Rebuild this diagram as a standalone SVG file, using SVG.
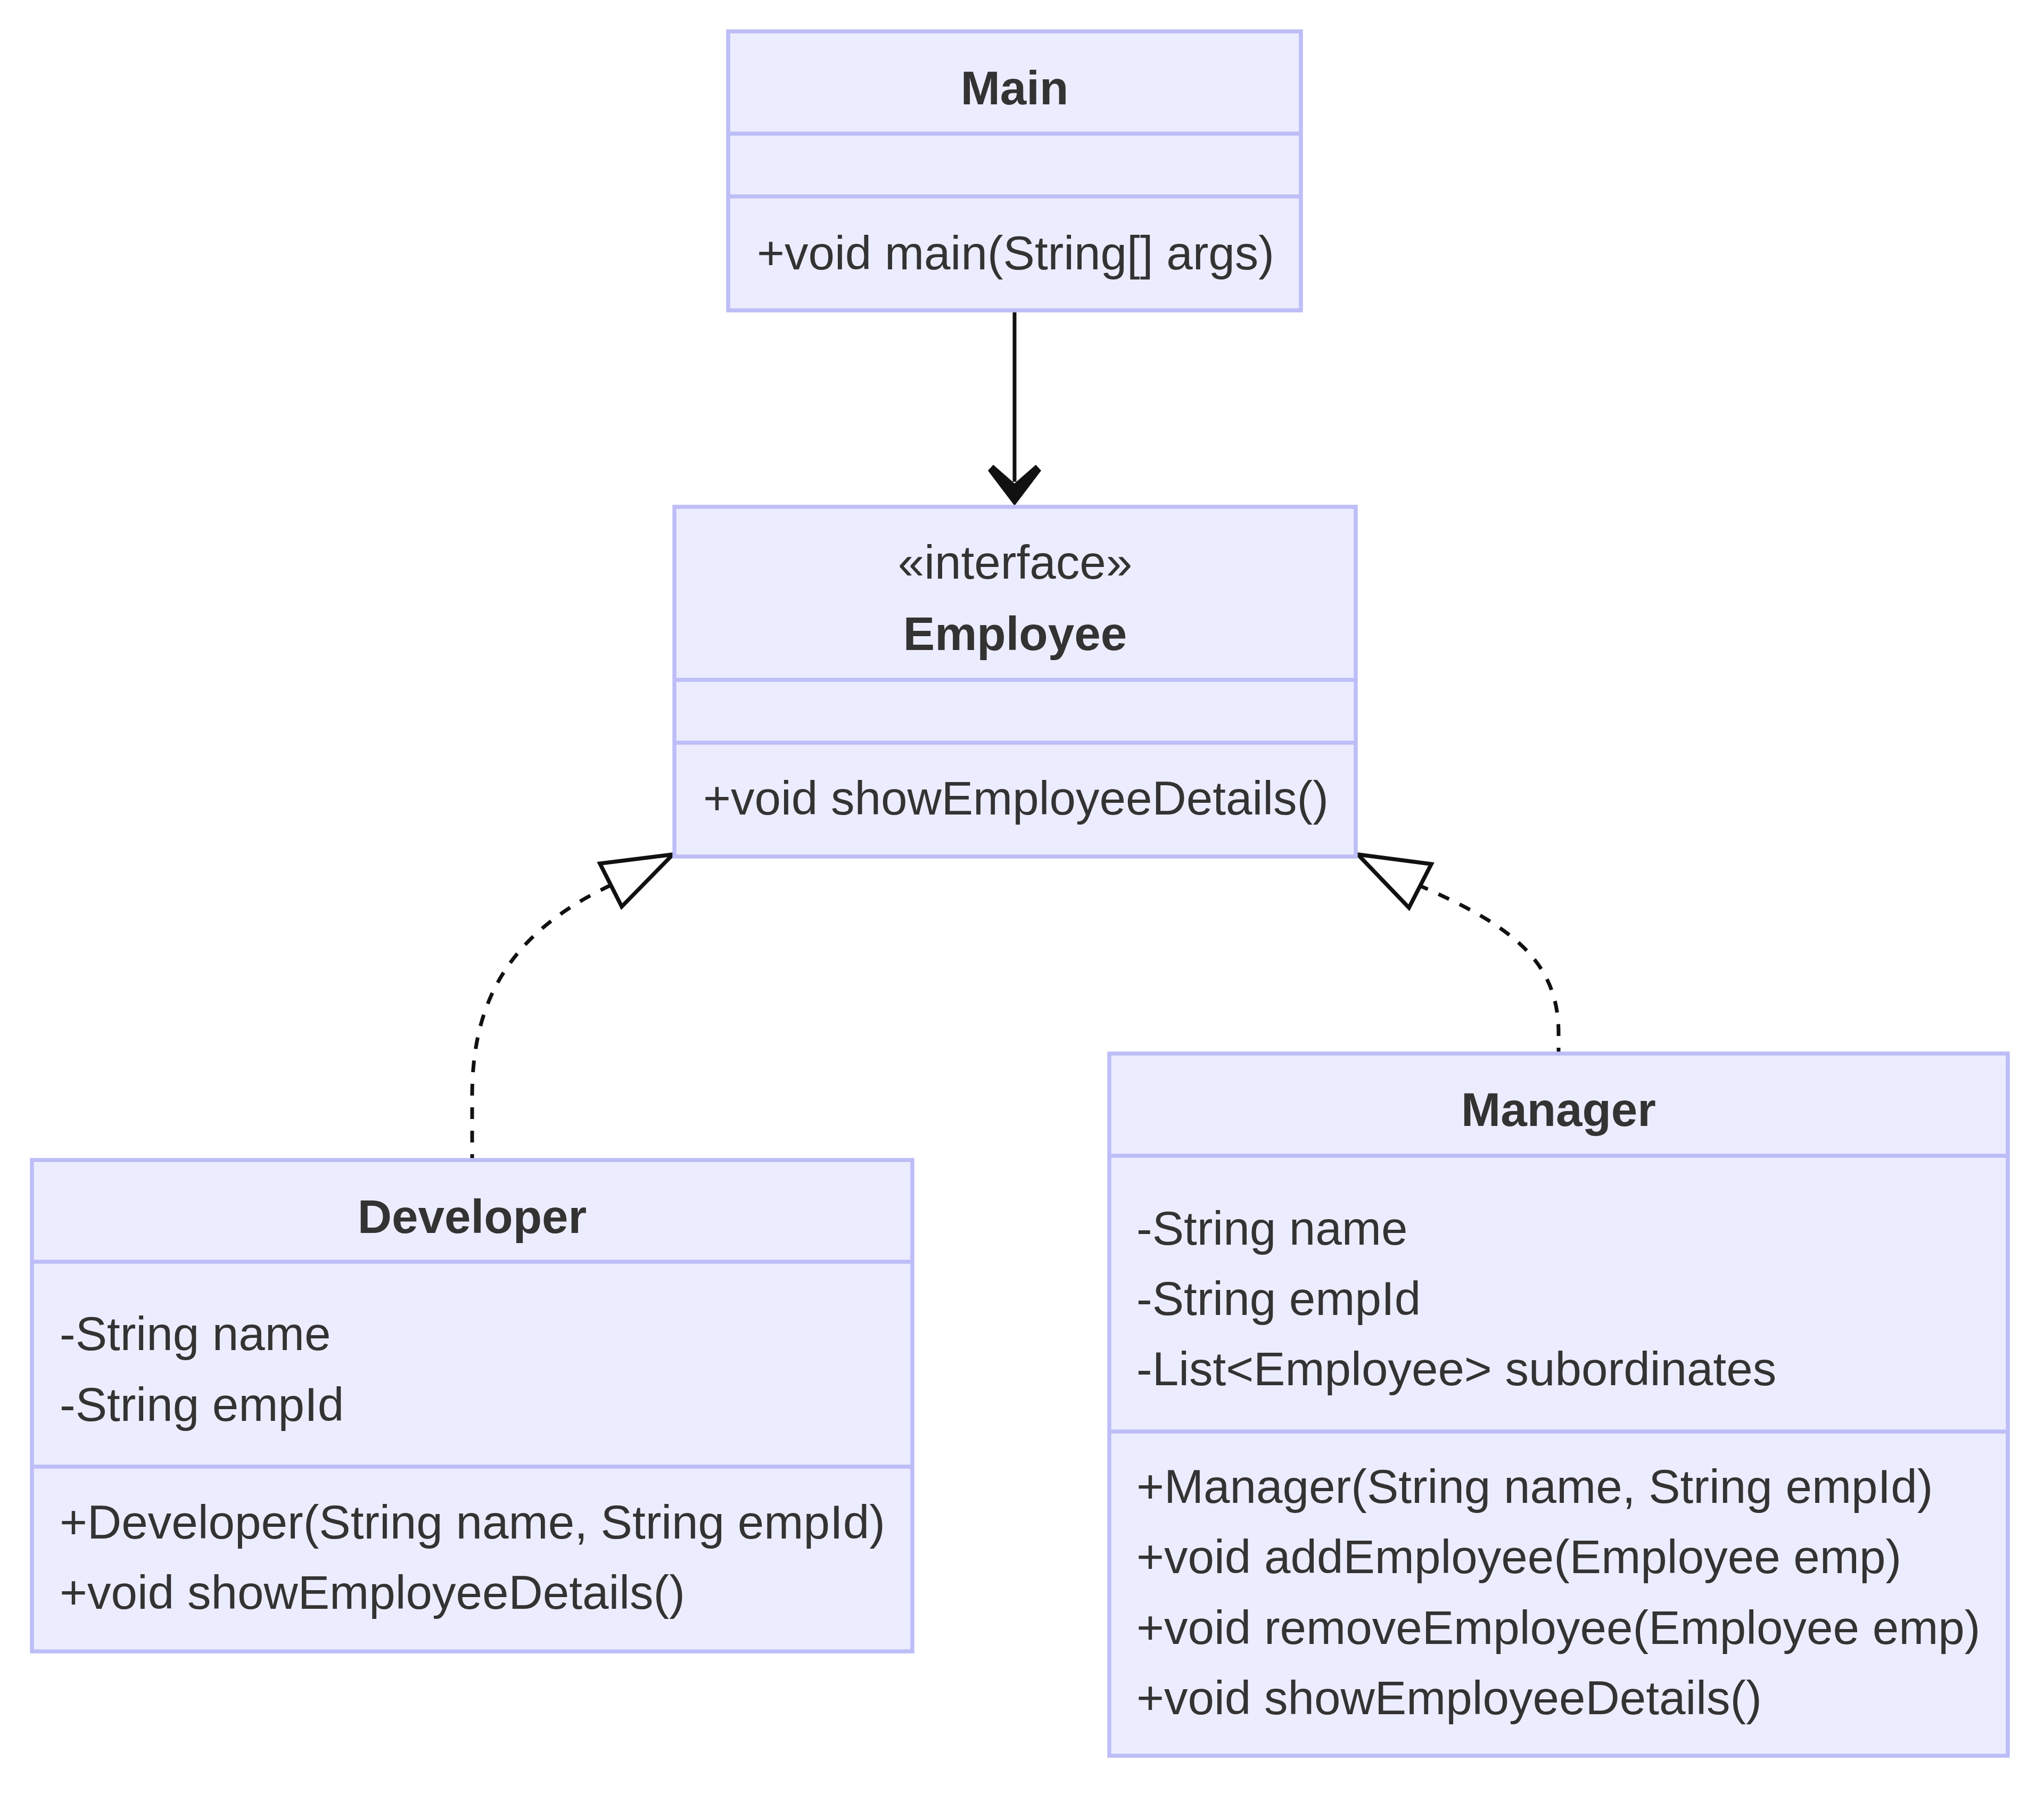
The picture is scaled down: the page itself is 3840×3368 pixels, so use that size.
<svg xmlns="http://www.w3.org/2000/svg" width="3840" height="3368" viewBox="0 0 3840 3368">
  <style>
    .box { fill: #ECECFF; stroke: #BDBDF7; stroke-width: 7.5; }
    .div { stroke: #BDBDF7; stroke-width: 7.5; }
    text { font-family: "Liberation Sans", Arial, sans-serif; font-size: 89px; fill: #333333; }
    .title { font-weight: bold; text-anchor: middle; }
    .stereo { text-anchor: middle; }
    .edge { fill: none; stroke: #111111; stroke-width: 7; }
    .dashed { stroke-dasharray: 22 22; }
    .hollow { fill: none; stroke: #111111; stroke-width: 7.5; stroke-linejoin: miter; }
  </style>
  <rect width="3840" height="3368" fill="#FFFFFF"/>

  <!-- connectors -->
  <g id="connectors">
    <!-- Main uses Employee -->
    <g id="edge-main-employee">
      <path class="edge" d="M 1906 583 L 1906 905"/>
      <polygon fill="#111111" points="1906,950 1856,884 1866,873 1906,908 1946,873 1956,884"/>
    </g>
    <!-- Developer realizes Employee -->
    <g id="edge-developer-employee">
      <path class="edge dashed" stroke-dashoffset="11" d="M 887 2179 L 887 2060 C 887 1900 940 1760 1147 1663"/>
      <polygon class="hollow" points="1264,1605 1127,1622 1168,1703"/>
    </g>
    <!-- Manager realizes Employee -->
    <g id="edge-manager-employee">
      <path class="edge dashed" stroke-dashoffset="11" d="M 2928 1979 L 2928 1940 C 2928 1800 2830 1735 2668 1664"/>
      <polygon class="hollow" points="2551,1605 2689,1623 2647,1705"/>
    </g>
  </g>

  <!-- class Main -->
  <g id="node-Main">
    <rect class="box" x="1368" y="59" width="1076" height="524"/>
    <line class="div" x1="1368" y1="251" x2="2444" y2="251"/>
    <line class="div" x1="1368" y1="369" x2="2444" y2="369"/>
    <text class="title" x="1906" y="196">Main</text>
    <text x="1422" y="506">+void main(String[] args)</text>
  </g>

  <!-- interface Employee -->
  <g id="node-Employee">
    <rect class="box" x="1267" y="952" width="1280" height="657"/>
    <line class="div" x1="1267" y1="1277" x2="2547" y2="1277"/>
    <line class="div" x1="1267" y1="1395" x2="2547" y2="1395"/>
    <text class="stereo" x="1907" y="1087">«interface»</text>
    <text class="title" x="1907" y="1221">Employee</text>
    <text x="1321" y="1530">+void showEmployeeDetails()</text>
  </g>

  <!-- class Developer -->
  <g id="node-Developer">
    <rect class="box" x="60" y="2179" width="1654" height="923"/>
    <line class="div" x1="60" y1="2370" x2="1714" y2="2370"/>
    <line class="div" x1="60" y1="2755" x2="1714" y2="2755"/>
    <text class="title" x="887" y="2316">Developer</text>
    <text x="112" y="2536">-String name</text>
    <text x="112" y="2669">-String empId</text>
    <text x="112" y="2890">+Developer(String name, String empId)</text>
    <text x="112" y="3022">+void showEmployeeDetails()</text>
  </g>

  <!-- class Manager -->
  <g id="node-Manager">
    <rect class="box" x="2084" y="1979" width="1688" height="1319"/>
    <line class="div" x1="2084" y1="2171" x2="3772" y2="2171"/>
    <line class="div" x1="2084" y1="2689" x2="3772" y2="2689"/>
    <text class="title" x="2928" y="2115">Manager</text>
    <text x="2135" y="2338">-String name</text>
    <text x="2135" y="2470">-String empId</text>
    <text x="2135" y="2602">-List&lt;Employee&gt; subordinates</text>
    <text x="2135" y="2823">+Manager(String name, String empId)</text>
    <text x="2135" y="2955">+void addEmployee(Employee emp)</text>
    <text x="2135" y="3088">+void removeEmployee(Employee emp)</text>
    <text x="2135" y="3220">+void showEmployeeDetails()</text>
  </g>
</svg>
